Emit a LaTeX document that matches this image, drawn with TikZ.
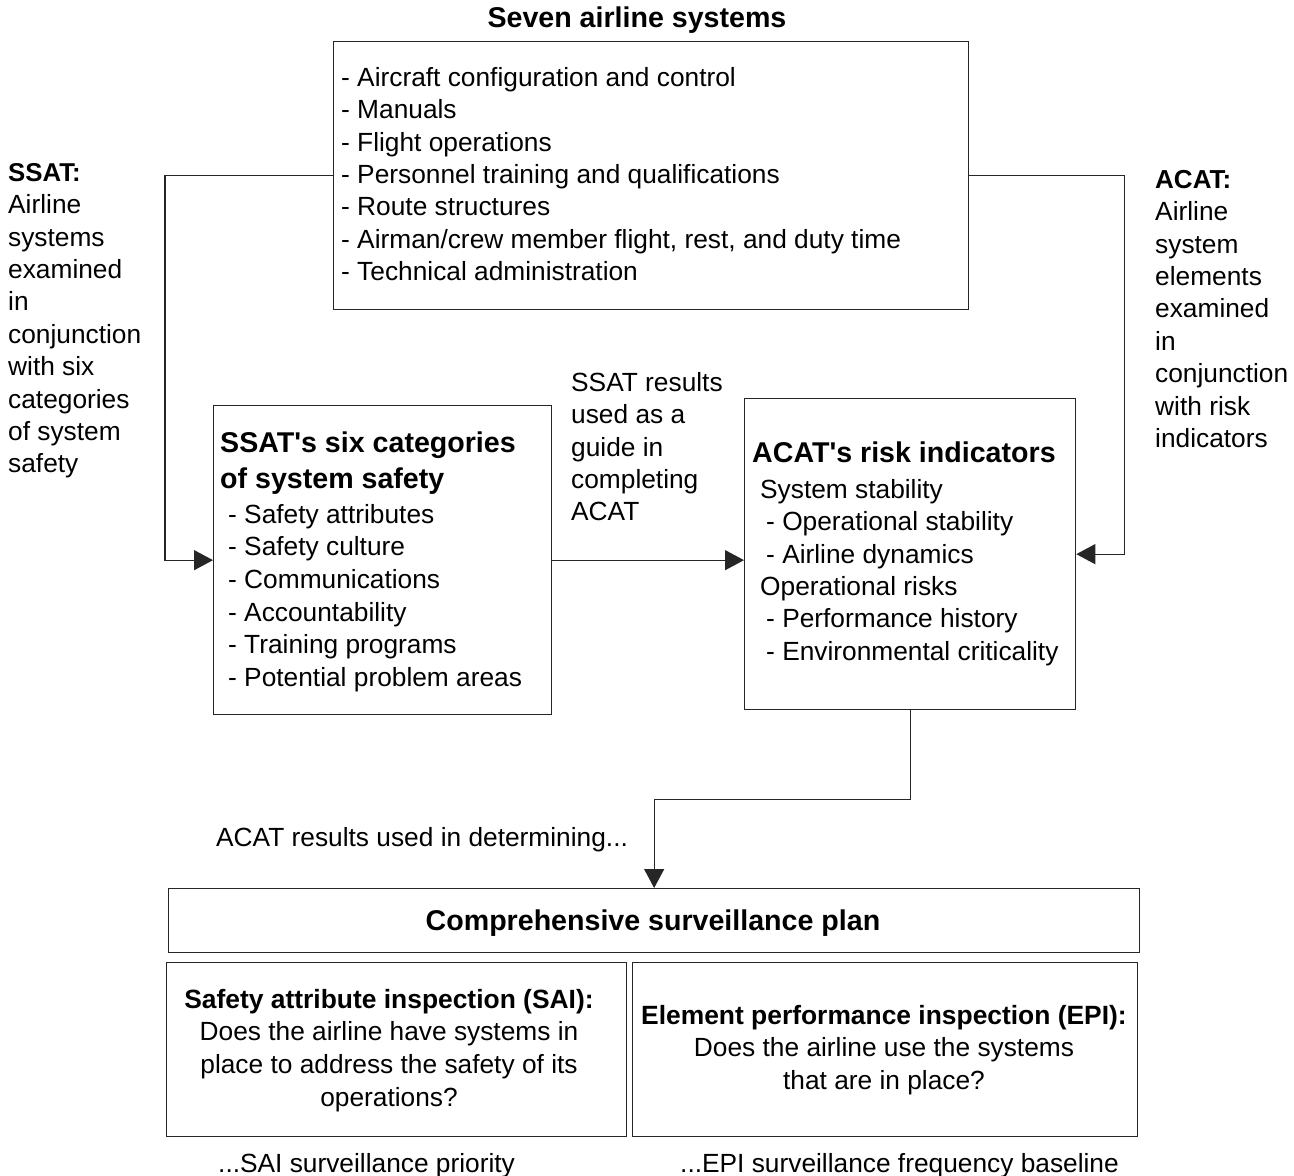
\documentclass[tikz,border=0pt]{standalone}
\usepackage{fontspec}
\setmainfont{Liberation Sans}
\usetikzlibrary{arrows.meta}
\newcommand{\bodyfont}{\fontsize{26.3}{32.4}\selectfont}
\newcommand{\headfont}{\fontsize{28.6}{36}\selectfont\bfseries}
\newcommand{\strt}{\rule{0pt}{24pt}}
\begin{document}
\begin{tikzpicture}[x=1pt,y=-1pt,
  box/.style={draw=black!85, line width=1.3pt, rectangle, inner sep=0pt, anchor=north west},
  txt/.style={inner sep=0pt, font=\bodyfont, align=left, anchor=north west},
  lbl/.style={inner sep=0pt, font=\bodyfont, anchor=base west},
  conn/.style={draw=black!85, line width=1.3pt},
  arr/.style={conn, -{Triangle[length=19pt,width=20pt]}}]
\useasboundingbox (0,0) rectangle (1294,1176);

% title
\node[inner sep=0pt, font=\headfont, anchor=base] (title) at (637,27) {Seven airline systems};

% boxes
\node[box, minimum width=635, minimum height=268] (sys) at (333,41) {};
\node[box, minimum width=338, minimum height=309] (ssat) at (213,405) {};
\node[box, minimum width=331, minimum height=311] (acat) at (744,398) {};
\node[box, minimum width=971, minimum height=64] (plan) at (168,888) {};
\node[box, minimum width=460, minimum height=174] (sai) at (166,962) {};
\node[box, minimum width=505, minimum height=174] (epi) at (632,962) {};

% top box text
\node[txt] (systxt) at (341,62) {\strt- Aircraft configuration and control\\- Manuals\\- Flight operations\\- Personnel training and qualifications\\- Route structures\\- Airman/crew member flight, rest, and duty time\\- Technical administration};

% side texts
\node[txt] (ssatside) at (8,157) {{\strt\fontsize{25.8}{32.4}\selectfont\bfseries SSAT:}\\Airline\\systems\\examined\\in\\conjunction\\with six\\categories\\of system\\safety};
\node[txt] (acatside) at (1155,164) {{\strt\fontsize{26}{32.4}\selectfont\bfseries ACAT:}\\Airline\\system\\elements\\examined\\in\\conjunction\\with risk\\indicators};
\node[txt] (guide) at (571,367) {\strt SSAT results\\used as a\\guide in\\completing\\ACAT};

% SSAT box text
\node[txt, font=\headfont] (ssathead) at (220,428) {\strt SSAT\textquotesingle s six categories\\of system safety};
\node[txt, font=\fontsize{26.3}{32.6}\selectfont] (ssatitems) at (228,499) {\strt- Safety attributes\\- Safety culture\\- Communications\\- Accountability\\- Training programs\\- Potential problem areas};

% ACAT box text
\node[txt, font=\headfont] (acathead) at (752,438) {\strt ACAT\textquotesingle s risk indicators};
\node[txt] (acatitems) at (760,474) {\strt System stability\\\hspace*{6pt}- Operational stability\\\hspace*{6pt}- Airline dynamics\\Operational risks\\\hspace*{6pt}- Performance history\\\hspace*{6pt}- Environmental criticality};

% lower part
\node[lbl] (acatres) at (216,846) {ACAT results used in determining...};
\node[inner sep=0pt, font=\headfont, anchor=base] (plantxt) at (653,930) {Comprehensive surveillance plan};
\node[txt, align=center, anchor=north, font=\fontsize{26.3}{32.7}\selectfont] (saitxt) at (389,984) {{\strt\fontsize{26.4}{32.7}\selectfont\bfseries Safety attribute inspection (SAI):}\\Does the airline have systems in\\place to address the safety of its\\operations?};
\node[txt, align=center, anchor=north, font=\fontsize{26.3}{32.7}\selectfont] (epitxt) at (884,1000) {{\strt\fontsize{26.4}{32.7}\selectfont\bfseries Element performance inspection (EPI):}\\Does the airline use the systems\\that are in place?};
\node[lbl] (saires) at (218,1172) {...SAI surveillance priority};
\node[lbl] (epires) at (680,1172) {...EPI surveillance frequency baseline};

% connectors
\draw[arr] (sys.west) -- ++(-168,0) |- (ssat.west);
\draw[arr] (sys.east) -- ++(155,0) |- (acat.east);
\draw[arr] (ssat.east) -- (ssat.east -| acat.west);
\draw[arr] (acat.south) -- ++(0,89) -| (plan.north);
\end{tikzpicture}
\end{document}
